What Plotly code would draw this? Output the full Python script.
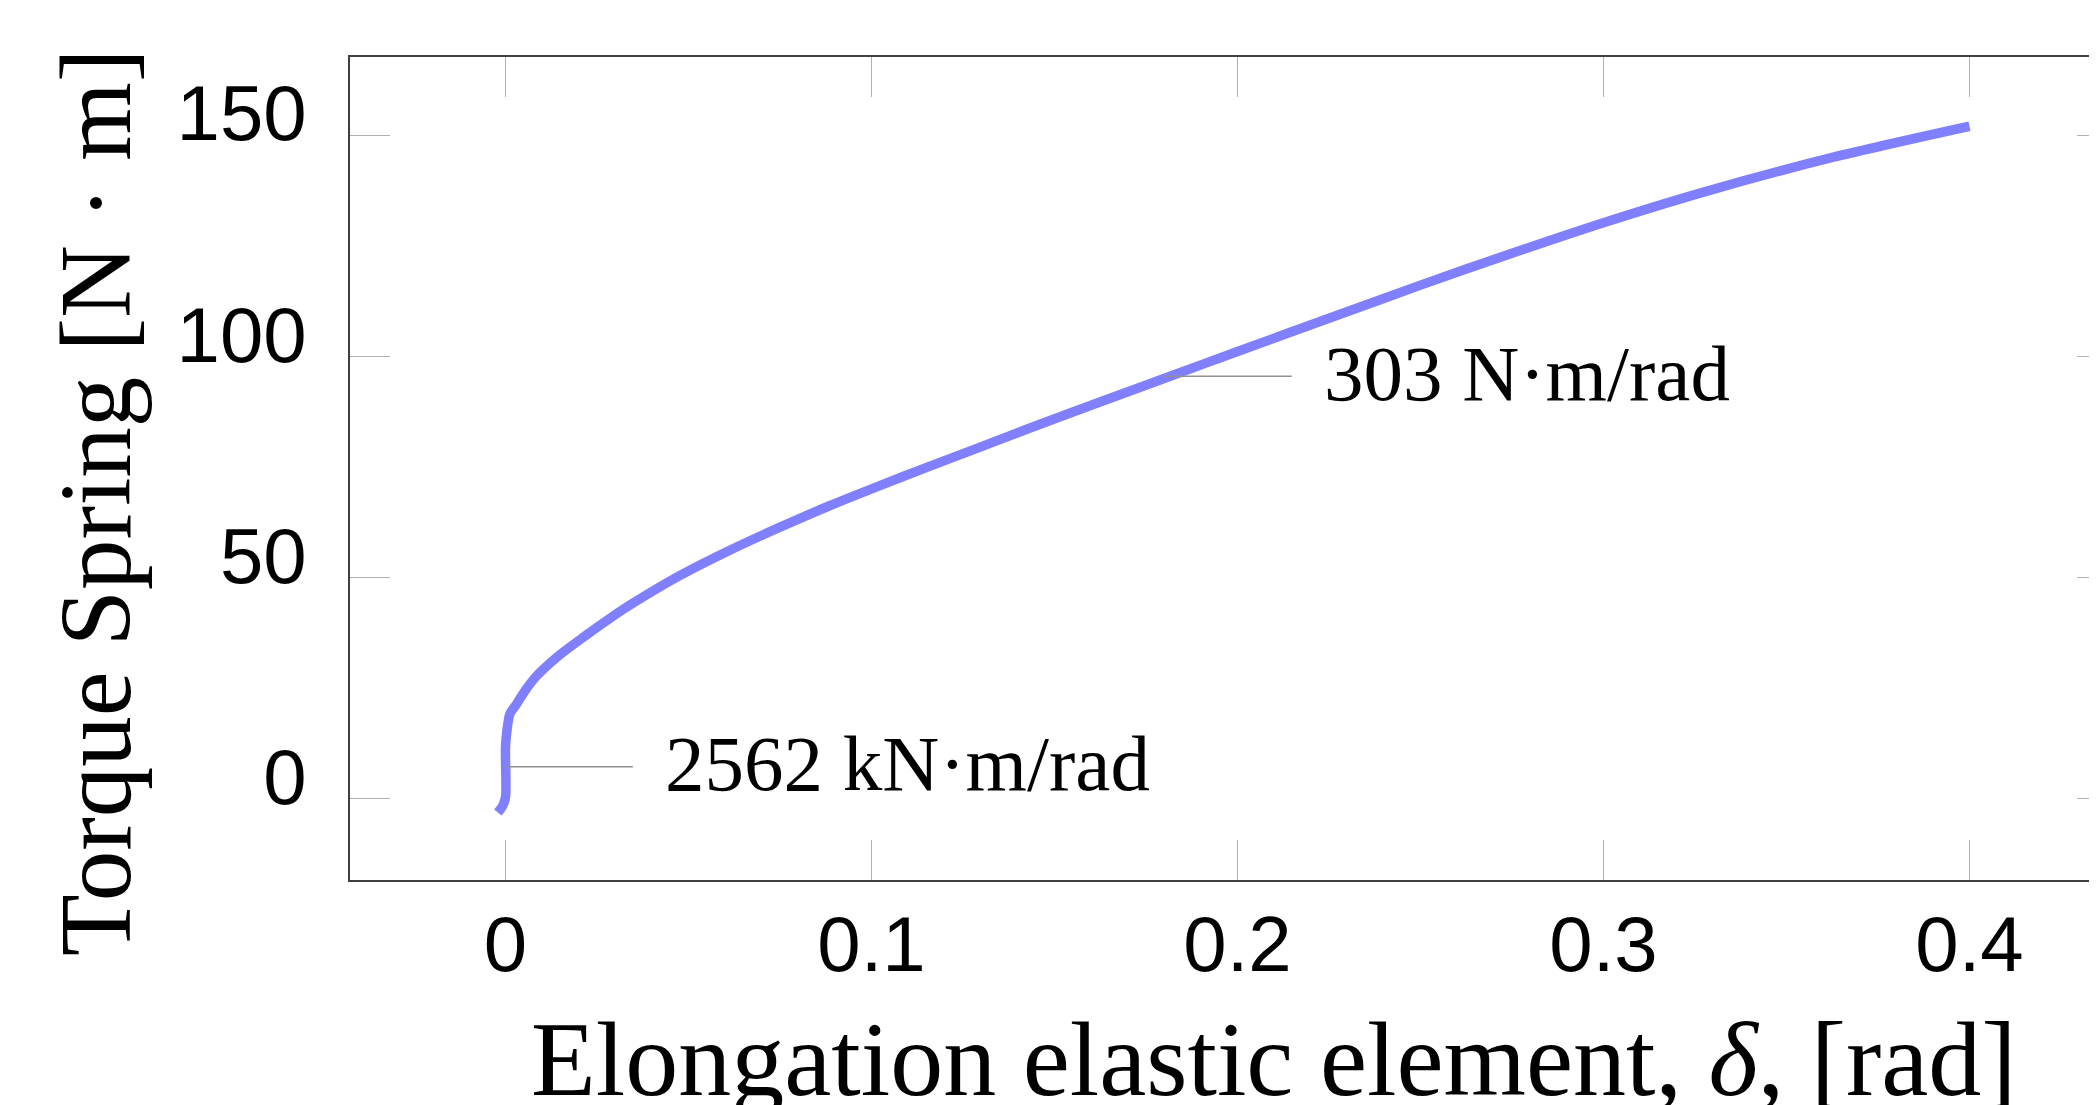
import plotly.graph_objects as go

# ---- data ----
elongation_rad = [-0.0021, -0.0008, 0.0, 0.0, 0.0004, 0.0012, 0.003, 0.0053, 0.0085,
                  0.014, 0.0212, 0.0294, 0.034, 0.0477, 0.0613, 0.075, 0.0887, 0.1023,
                  0.116, 0.1297, 0.1433, 0.1615, 0.1816, 0.2, 0.225, 0.25, 0.275, 0.3,
                  0.3264, 0.3628, 0.4]
torque_nm = [-3.1, -1.6, 0.4, 11.6, 15.5, 19.2, 21.4, 24.4, 27.8,
             32.0, 36.5, 41.3, 43.8, 50.5, 56.2, 61.4, 66.3, 70.8,
             75.2, 79.5, 83.8, 89.4, 95.5, 101.1, 108.6, 116.1, 123.3, 130.2,
             136.9, 145.0, 152.0]

stiffness_x = [0.0, 0.18]
stiffness_y = [7.24, 95.5]
stiffness_labels = ["2562 kN·m/rad", "303 N·m/rad"]

x_tickvals = [0, 0.1, 0.2, 0.3, 0.4]
x_ticktext = ["0", "0.1", "0.2", "0.3", "0.4"]
y_tickvals = [0, 50, 100, 150]
y_ticktext = ["0", "50", "100", "150"]

x_title = "Elongation elastic element, <i>δ</i>, [rad]"
y_title = "Torque Spring [N · m]"

# ---- styling ----
W, H = 2097, 1105
L, R, T, B = 342, 0, 49, 233
PLOT_W = W - L - R
PLOT_H = H - T - B
X_RANGE = [-0.04249, 0.43702]
Y_RANGE = [-18.33, 167.65]
LEADER = 0.0348
LABEL_GAP = 0.0082
CURVE_COLOR = "#8080ff"
AXIS_COLOR = "#404040"
TICK_COLOR = "#b0b0b0"
SERIF = "Liberation Serif, Times New Roman, serif"
SANS = "Liberation Sans, Arial, sans-serif"

fig = go.Figure()

fig.add_trace(go.Scatter(
    x=elongation_rad, y=torque_nm, mode="lines",
    line=dict(color=CURVE_COLOR, width=9.5, shape="spline", smoothing=0.8),
    hoverinfo="skip", showlegend=False,
))

# leader lines of the stiffness labels
for sx, sy in zip(stiffness_x, stiffness_y):
    fig.add_trace(go.Scatter(
        x=[sx, sx + LEADER], y=[sy, sy], mode="lines",
        line=dict(color="#909090", width=1.5),
        hoverinfo="skip", showlegend=False,
    ))

# invisible trace anchoring the mirrored right-hand y ticks
fig.add_trace(go.Scatter(x=[elongation_rad[-1]], y=[torque_nm[-1]], yaxis="y2",
                         mode="lines", line=dict(width=0), hoverinfo="skip",
                         showlegend=False, opacity=0))

annotations = []
for sx, sy, txt in zip(stiffness_x, stiffness_y, stiffness_labels):
    annotations.append(dict(
        x=sx + LEADER + LABEL_GAP, y=sy + 0.7, xref="x", yref="y",
        text=txt, showarrow=False, xanchor="left", yanchor="middle",
        font=dict(family=SERIF, size=79, color="black"),
    ))

# axis titles placed as annotations (pixel positions within the page)
annotations.append(dict(
    x=(1265.5 - L) / PLOT_W, y=-(1051 - (H - B)) / PLOT_H, xref="paper", yref="paper",
    text=x_title, showarrow=False, xanchor="center", yanchor="middle",
    font=dict(family=SERIF, size=106, color="black"),
))
annotations.append(dict(
    x=(88 - L) / PLOT_W, y=((H - B) - 495) / PLOT_H, xref="paper", yref="paper",
    text=y_title, showarrow=False, xanchor="center", yanchor="middle", textangle=-90,
    font=dict(family=SERIF, size=101, color="black"),
))

fig.update_layout(
    width=W, height=H,
    margin=dict(l=L, r=R, t=T, b=B, pad=0),
    paper_bgcolor="white", plot_bgcolor="white",
    showlegend=False,
    annotations=annotations,
    xaxis=dict(
        range=X_RANGE, tickvals=x_tickvals, ticktext=x_ticktext,
        showgrid=False, zeroline=False,
        showline=True, linecolor=AXIS_COLOR, linewidth=1.5, mirror="ticks",
        ticks="inside", ticklen=40, tickwidth=1.2, tickcolor=TICK_COLOR,
        tickfont=dict(family=SANS, size=78, color="black"),
        ticklabelstandoff=-4,
    ),
    yaxis=dict(
        range=Y_RANGE, tickvals=y_tickvals, ticktext=y_ticktext,
        showgrid=False, zeroline=False,
        showline=True, linecolor=AXIS_COLOR, linewidth=1.5, mirror=False,
        ticks="inside", ticklen=40, tickwidth=1.2, tickcolor=TICK_COLOR,
        tickfont=dict(family=SANS, size=78, color="black"),
        ticklabelshift=-22, ticklabelstandoff=26,
    ),
    yaxis2=dict(
        range=Y_RANGE, overlaying="y", side="right", tickvals=y_tickvals,
        showgrid=False, zeroline=False, showline=False, showticklabels=False,
        ticks="inside", ticklen=28, tickwidth=1.2, tickcolor=TICK_COLOR,
    ),
)

fig.write_html("out.html")
